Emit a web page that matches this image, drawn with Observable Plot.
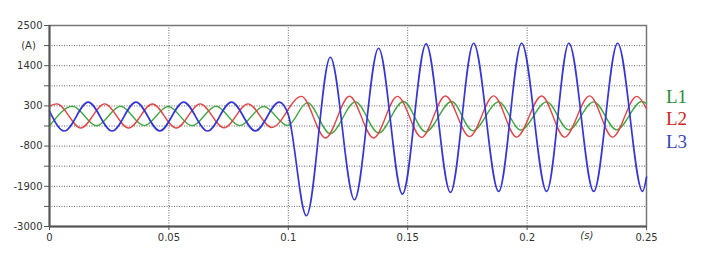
<!DOCTYPE html>
<html>
<head>
<meta charset="utf-8">
<script src="https://cdn.jsdelivr.net/npm/d3@7"></script>
<script src="https://cdn.jsdelivr.net/npm/@observablehq/plot@0.6"></script>
<style>
  html, body { margin: 0; padding: 0; background: #fff; }
  #wrap { position: relative; width: 705px; height: 254px; }
  .lg { position: absolute; left: 666px; font-family: "Liberation Serif", "DejaVu Serif", serif; font-size: 19px; line-height: 21px; }
</style>
</head>
<body>
<div id="wrap"></div>
<script>
// ---- data ----
const seriesNames = ["L1", "L2", "L3"];
const seriesColors = ["#44a844", "#e04646", "#3636d4"];
const legendColors = ["#2a8c3a", "#cc2424", "#3c48b4"];

// L1 (green): extrema times (s) and currents (A)
const l1T = [0, 0.0097, 0.0197, 0.0297, 0.0397, 0.0497, 0.0597, 0.0697, 0.0797, 0.0897, 0.0997,
             0.1080, 0.1176, 0.1281, 0.1378, 0.1482, 0.1575, 0.1684, 0.1772, 0.1881, 0.1973,
             0.2082, 0.2174, 0.2279, 0.2375, 0.2480, 0.25];
const l1A = [-248, 290, -245, 290, -240, 285, -245, 290, -240, 285, -235,
             390, -460, 410, -440, 420, -410, 420, -380, 410, -360,
             410, -355, 410, -355, 420, 370];

// L2 (red)
const l2T = [0, 0.0031, 0.0131, 0.0231, 0.0331, 0.0431, 0.0531, 0.0631, 0.0731, 0.0831, 0.0931,
             0.1055, 0.1156, 0.1256, 0.1357, 0.1457, 0.1558, 0.1658, 0.1759, 0.1860, 0.1956,
             0.2061, 0.2157, 0.2262, 0.2358, 0.2459, 0.25];
const l2A = [295, 355, -305, 355, -305, 350, -305, 355, -300, 355, -290,
             560, -577, 565, -577, 560, -560, 570, -540, 575, -555,
             570, -555, 575, -555, 560, 226];

// L3 (blue)
const l3T = [0, 0.0062, 0.0162, 0.0262, 0.0362, 0.0462, 0.0562, 0.0662, 0.0762, 0.0862, 0.0962, 0.1,
             0.1076, 0.1176, 0.1277, 0.1378, 0.1478, 0.1577, 0.1679, 0.1776, 0.1881, 0.1977,
             0.2082, 0.2175, 0.2279, 0.2379, 0.2484, 0.25];
const l3A = [160, -387, 405, -387, 405, -385, 405, -387, 405, -385, 405, 60,
             -2706, 1631, -2268, 1878, -2112, 1998, -2067, 2015, -2040, 2015,
             -2040, 2015, -2040, 2015, -2040, -1650];

// axes
const yTicks = [-3000, -1900, -800, 300, 1400, 2500];
const yMinorTicks = [-2450, -1350, -250, 850, 1950];
const yGrid = [-2450, -1900, -1350, -800, -250, 300, 850, 1400, 1950];
const xTicks = [0, 0.05, 0.1, 0.15, 0.2, 0.25];
const xGrid = [0.05, 0.1, 0.15, 0.2];
const yUnit = [{y: 1950, label: "(A)"}];
const xUnit = [{x: 0.225, label: "(s)"}];

const toRows = (T, A, name) => T.map((t, i) => ({t, a: A[i], name}));
const rows = [toRows(l1T, l1A, "L1"), toRows(l2T, l2A, "L2"), toRows(l3T, l3A, "L3")];

const chart = Plot.plot({
  width: 705,
  height: 254,
  marginLeft: 49,
  marginRight: 59,
  marginTop: 25,
  marginBottom: 28,
  style: {fontFamily: "'DejaVu Sans', sans-serif", fontSize: "10px", color: "#333", background: "#fff"},
  x: {domain: [0, 0.25]},
  y: {domain: [-3000, 2500]},
  marks: [
    Plot.ruleY(yGrid, {stroke: "#666", strokeWidth: 1, strokeDasharray: "1,1.5"}),
    Plot.ruleX(xGrid, {stroke: "#666", strokeWidth: 1, strokeDasharray: "1,1.5"}),
    Plot.frame({stroke: "#777", strokeWidth: 1.5}),
    Plot.line(rows[0], {x: "t", y: "a", stroke: seriesColors[0], strokeWidth: 1.4, curve: "monotone-x"}),
    Plot.line(rows[1], {x: "t", y: "a", stroke: seriesColors[1], strokeWidth: 1.4, curve: "monotone-x"}),
    Plot.line(rows[2], {x: "t", y: "a", stroke: seriesColors[2], strokeWidth: 1.7, curve: "monotone-x"}),
    Plot.axisY({ticks: yTicks, tickSize: 5, tickPadding: 2, tickFormat: d => String(d), stroke: "#555", label: null}),
    Plot.axisY({ticks: yMinorTicks, tickSize: 5, tickFormat: () => "", stroke: "#555", label: null}),
    Plot.axisX({ticks: xTicks, tickSize: 4, tickPadding: 3, tickFormat: d => String(d), stroke: "#555", label: null}),
    Plot.ruleX([0], {stroke: "#555", strokeWidth: 2}),
    Plot.ruleY([-3000], {stroke: "#555", strokeWidth: 2}),
    Plot.text(yUnit, {y: "y", text: "label", frameAnchor: "left", dx: -21, textAnchor: "middle", fill: "#333"}),
    Plot.text(xUnit, {x: "x", text: "label", frameAnchor: "bottom", dy: 12, fontStyle: "italic", fill: "#333"})
  ]
});

const wrap = document.getElementById("wrap");
wrap.appendChild(chart);
const legendTops = [86, 108, 131];
seriesNames.forEach((n, i) => {
  const d = document.createElement("div");
  d.className = "lg";
  d.style.top = legendTops[i] + "px";
  d.style.color = legendColors[i];
  d.textContent = n;
  wrap.appendChild(d);
});
</script>
</body>
</html>
